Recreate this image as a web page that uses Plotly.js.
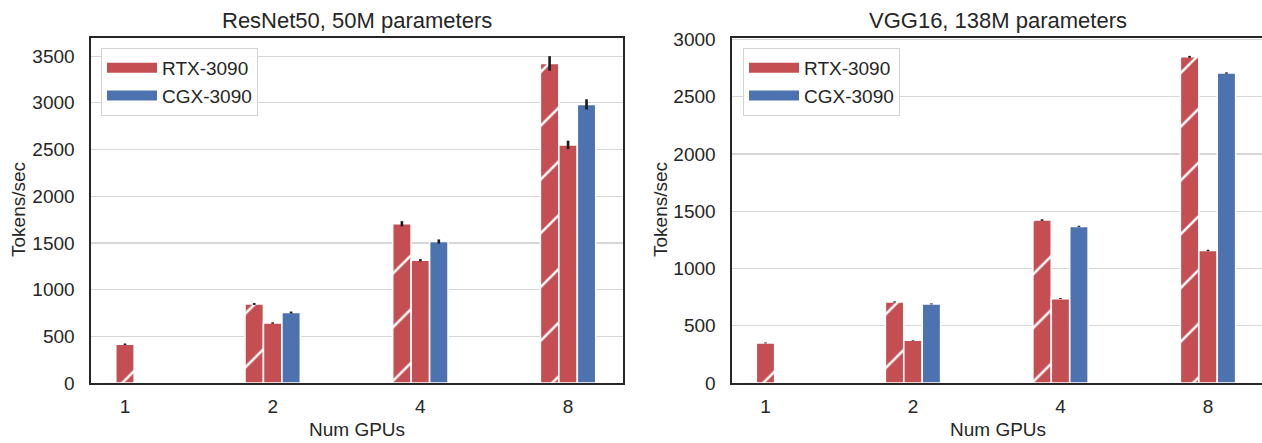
<!DOCTYPE html>
<html><head><meta charset="utf-8">
<script src="https://cdn.plot.ly/plotly-3.0.1.min.js"></script>
<style>html,body{margin:0;padding:0;background:#fff}#chart{width:1262px;height:443px}</style>
</head><body><div id="chart"></div>
<script>
// ---- data ----
const gpus = ['1', '2', '4', '8'];
const resnetLinear    = [415, 846, 1705, 3422];
const resnetLinearErr = [8, 10, 28, 78];
const resnetRtx       = [null, 642, 1315, 2550];
const resnetRtxErr    = [null, 8, 12, 45];
const resnetCgx       = [null, 755, 1515, 2983];
const resnetCgxErr    = [null, 10, 22, 55];

const vggLinear    = [350, 708, 1423, 2849];
const vggLinearErr = [4, 5, 7, 8];
const vggRtx       = [null, 373, 737, 1158];
const vggRtxErr    = [null, 3, 4, 6];
const vggCgx       = [null, 691, 1368, 2707];
const vggCgxErr    = [null, 4, 5, 6];

const seriesNames = ['RTX-3090', 'CGX-3090'];
const titles = ['ResNet50, 50M parameters', 'VGG16, 138M parameters'];
const xLabel = 'Num GPUs';
const yLabel = 'Tokens/sec';

// ---- style ----
const RED = '#C44E52', BLUE = '#4C72B0', INK = '#262626';
const FONT = '"Liberation Sans", Arial, Helvetica, sans-serif';
const W = 1262, H = 443;
const BW = 0.125;
const linearOffset = [-BW / 2, -1.5 * BW, -1.5 * BW, -1.5 * BW];

function errObj(arr) {
  return {type: 'data', array: arr, visible: true, width: 0, thickness: 2.6, color: '#1a1a1a'};
}
function bars(xa, ya, lin, linE, rtx, rtxE, cgx, cgxE) {
  return [
    {type: 'bar', x: gpus, y: lin, xaxis: xa, yaxis: ya, width: BW, offset: linearOffset,
     marker: {color: RED, line: {color: '#fff', width: 1.6},
              pattern: {shape: '/', fgcolor: '#ffffff', bgcolor: RED, fillmode: 'replace',
                        size: 38, solidity: 0.065}},
     error_y: errObj(linE), showlegend: false, hoverinfo: 'skip'},
    {type: 'bar', x: gpus, y: rtx, xaxis: xa, yaxis: ya, width: BW, offset: -BW / 2,
     marker: {color: RED, line: {color: '#fff', width: 1.6}},
     error_y: errObj(rtxE), showlegend: false, hoverinfo: 'skip'},
    {type: 'bar', x: gpus, y: cgx, xaxis: xa, yaxis: ya, width: BW, offset: BW / 2,
     marker: {color: BLUE, line: {color: '#fff', width: 1.6}},
     error_y: errObj(cgxE), showlegend: false, hoverinfo: 'skip'}
  ];
}
function legendTraces(xa, ya, leg) {
  return [RED, BLUE].map((c, i) => ({
    type: 'scatter', mode: 'lines', x: [null], y: [null], xaxis: xa, yaxis: ya,
    name: seriesNames[i], line: {color: c, width: 11}, legend: leg, hoverinfo: 'skip'
  }));
}

const data = [
  ...bars('x', 'y', resnetLinear, resnetLinearErr, resnetRtx, resnetRtxErr, resnetCgx, resnetCgxErr),
  ...bars('x2', 'y2', vggLinear, vggLinearErr, vggRtx, vggRtxErr, vggCgx, vggCgxErr),
  ...legendTraces('x', 'y', 'legend'),
  ...legendTraces('x2', 'y2', 'legend2')
];

const px = v => v / W, py = v => 1 - v / H;
const yDom = [py(383), py(38)];

function xAxis(domain, range, mirror) {
  return {domain, range, type: 'category', categoryorder: 'array', categoryarray: gpus,
    showgrid: false, zeroline: false, showline: true, linecolor: INK, linewidth: 1.6, mirror,
    ticks: '', ticklabelstandoff: 6, tickfont: {family: FONT, size: 19, color: INK},
    automargin: false, fixedrange: true};
}
function yAxis(anchor, range, mirror) {
  return {domain: yDom, anchor, range, dtick: 500, tick0: 0, showgrid: true, gridcolor: '#d6d6d6',
    gridwidth: 1.2, zeroline: false, showline: true, linecolor: INK, linewidth: 1.6, mirror,
    ticks: '', ticklabelstandoff: 11, tickfont: {family: FONT, size: 19, color: INK},
    automargin: false, fixedrange: true};
}

const legendBase = {bgcolor: 'rgba(255,255,255,0.85)', bordercolor: '#d4d4d4', borderwidth: 1,
  font: {family: FONT, size: 19, color: INK}, xanchor: 'left', yanchor: 'top', itemwidth: 50,
  tracegroupgap: 0, itemclick: false, itemdoubleclick: false};

function ann(text, x, y, size, angle) {
  return {text, xref: 'paper', yref: 'paper', x: px(x), y: py(y), xanchor: 'center', yanchor: 'middle',
    showarrow: false, textangle: angle || 0, font: {family: FONT, size, color: INK}};
}

const layout = {
  width: W, height: H, margin: {l: 0, r: 0, t: 0, b: 0}, paper_bgcolor: '#fff', plot_bgcolor: '#fff',
  barmode: 'overlay', showlegend: true,
  xaxis: Object.assign(xAxis([px(91), px(623)], [-0.23, 3.372], true), {anchor: 'y'}),
  yaxis: yAxis('x', [0, 3694], true),
  xaxis2: Object.assign(xAxis([px(732), 1], [-0.227, 3.366], true), {anchor: 'y2'}),
  yaxis2: yAxis('x2', [0, 3013], false),
  legend: Object.assign({}, legendBase, {x: px(101), y: py(48)}),
  legend2: Object.assign({}, legendBase, {x: px(743), y: py(48)}),
  annotations: [
    ann(titles[0], 357, 21, 22), ann(titles[1], 998, 21, 22),
    ann(xLabel, 357, 429, 19), ann(xLabel, 998, 429, 19),
    ann(yLabel, 18, 210, 19, -90), ann(yLabel, 660, 210, 19, -90)
  ]
};

Plotly.newPlot('chart', data, layout, {staticPlot: true, displayModeBar: false});
</script></body></html>
